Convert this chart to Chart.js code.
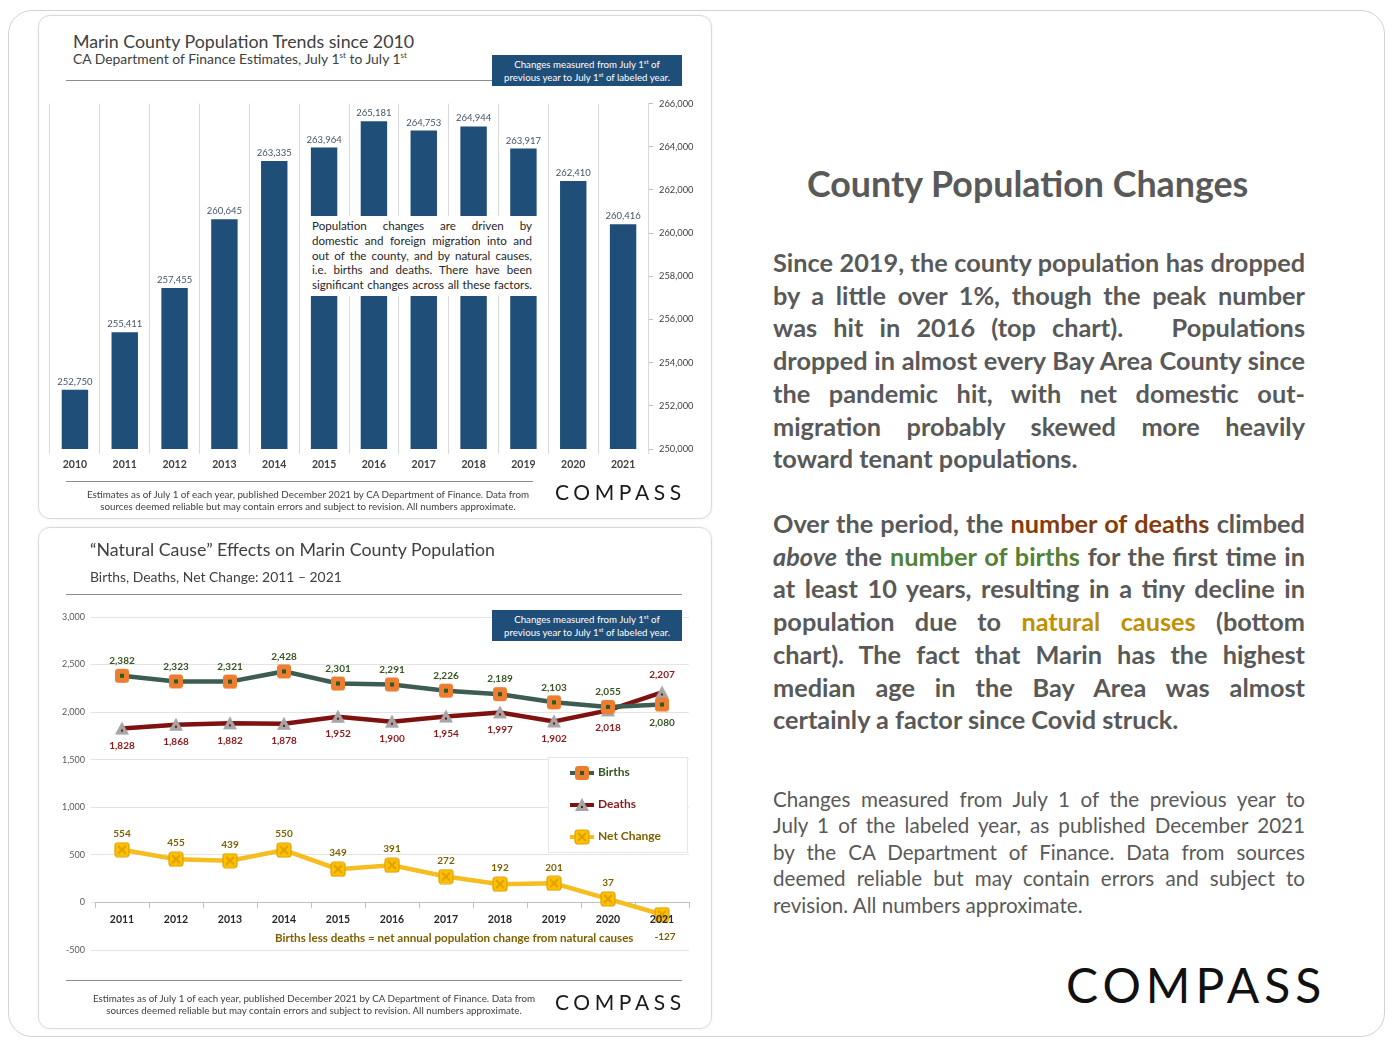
<!DOCTYPE html>
<html>
<head>
<meta charset="utf-8">
<script src="https://cdn.jsdelivr.net/npm/chart.js@4.4.0/dist/chart.umd.min.js"></script>
<style>
body{margin:0;background:#fff;font-family:Lato,'Open Sans',sans-serif;color:#404040;}
#page{position:relative;width:1392px;height:1045px;overflow:hidden;}
.abs{position:absolute;}
.frame{left:8px;top:10px;width:1377px;height:1027px;border:1.5px solid #d2d2d2;border-radius:24px;box-sizing:border-box;}
.card{border:1px solid #dadada;border-radius:12px;background:#fff;box-sizing:border-box;box-shadow:0 0 3px rgba(0,0,0,0.07);}
.ttl{font-size:17.8px;color:#404040;white-space:nowrap;}
.sub{font-size:13.9px;color:#404040;white-space:nowrap;}
.sub sup{font-size:8px;}
.rule{height:1px;background:#8c8c8c;}
.bluebox{background:#1F4E79;color:#fff;font-size:9.7px;line-height:12.5px;text-align:center;padding-top:3px;box-sizing:border-box;white-space:nowrap;}
.bluebox sup{font-size:6px;line-height:0;}
.foot{font-size:9.8px;line-height:12px;text-align:center;color:#404040;white-space:nowrap;}
.logo{font-size:21px;letter-spacing:4.6px;color:#1a1a1a;white-space:nowrap;}
.note{background:#fff;font-size:11.6px;line-height:14.8px;color:#262626;padding:3px 6px 0 7px;box-sizing:border-box;}
.note span.l{display:block;text-align:justify;text-align-last:justify;white-space:nowrap;}
.legend{background:#fff;border:1px solid #e6e6e6;box-sizing:border-box;}
.leg{position:absolute;left:20px;font-size:12px;font-weight:700;white-space:nowrap;}
.leg canvas{vertical-align:middle;margin-right:3px;}
.para{left:773px;width:532px;color:#595959;}
.p1{font-size:25.3px;font-weight:700;line-height:32.7px;}
.p3{font-size:20.6px;font-weight:400;line-height:26.4px;}
.para span.l{display:block;text-align:justify;text-align-last:justify;white-space:nowrap;}
.para span.e{display:block;white-space:nowrap;}
</style>
</head>
<body>
<div id="page">
  <div class="abs frame"></div>

  <!-- top card -->
  <div class="abs card" style="left:38px;top:15px;width:674px;height:504px;"></div>
  <div class="abs ttl" style="left:73px;top:30px;">Marin County Population Trends since 2010</div>
  <div class="abs sub" style="left:73px;top:50px;">CA Department of Finance Estimates, July 1<sup>st</sup> to July 1<sup>st</sup></div>
  <div class="abs rule" style="left:66px;top:80px;width:426px;"></div>
  <div class="abs bluebox" style="left:492px;top:55px;width:190px;height:31px;">Changes measured from July 1<sup>st</sup> of<br>previous year to July 1<sup>st</sup> of labeled year.</div>
  <div class="abs" style="left:40px;top:92px;width:665px;height:388px;"><canvas id="popChart" width="665" height="388"></canvas></div>
  <div class="abs note" style="left:305px;top:216px;width:233px;height:80px;">
    <span class="l">Population changes are driven by</span>
    <span class="l">domestic and foreign migration into and</span>
    <span class="l">out of the county, and by natural causes,</span>
    <span class="l">i.e. births and deaths. There have been</span>
    <span class="l">significant changes across all these factors.</span>
  </div>
  <div class="abs rule" style="left:66px;top:481px;width:467px;"></div>
  <div class="abs foot" style="left:50px;top:488px;width:516px;">Estimates as of July 1 of each year, published December 2021 by CA Department of Finance. Data from<br>sources deemed reliable but may contain errors and subject to revision. All numbers approximate.</div>
  <div class="abs logo" style="left:555px;top:479px;">COMPASS</div>

  <!-- bottom card -->
  <div class="abs card" style="left:38px;top:527px;width:674px;height:502px;"></div>
  <div class="abs ttl" style="left:90px;top:538px;">“Natural Cause” Effects on Marin County Population</div>
  <div class="abs sub" style="left:90px;top:568px;">Births, Deaths, Net Change: 2011 – 2021</div>
  <div class="abs rule" style="left:66px;top:594px;width:616px;"></div>
  <div class="abs" style="left:40px;top:600px;width:665px;height:368px;"><canvas id="natChart" width="665" height="368"></canvas></div>
  <div class="abs bluebox" style="left:492px;top:610px;width:190px;height:31px;">Changes measured from July 1<sup>st</sup> of<br>previous year to July 1<sup>st</sup> of labeled year.</div>
  <div class="abs legend" id="legend" style="left:548px;top:757px;width:140px;height:96px;"></div>
  <div class="abs" style="left:275px;top:931px;font-size:11.6px;font-weight:700;color:#7F6000;white-space:nowrap;">Births less deaths = net annual population change from natural causes</div>
  <div class="abs rule" style="left:66px;top:980px;width:616px;"></div>
  <div class="abs foot" style="left:56px;top:992px;width:516px;">Estimates as of July 1 of each year, published December 2021 by CA Department of Finance. Data from<br>sources deemed reliable but may contain errors and subject to revision. All numbers approximate.</div>
  <div class="abs logo" style="left:555px;top:989px;">COMPASS</div>

  <!-- right text -->
  <div class="abs" style="left:807px;top:162px;font-size:35.8px;font-weight:700;color:#595959;white-space:nowrap;">County Population Changes</div>
  <div class="abs para p1" style="top:246px;">
    <span class="l">Since 2019, the county population has dropped</span>
    <span class="l">by a little over 1%, though the peak number</span>
    <span class="l">was hit in 2016 (top chart).&nbsp;&nbsp; Populations</span>
    <span class="l">dropped in almost every Bay Area County since</span>
    <span class="l">the pandemic hit, with net domestic out-</span>
    <span class="l">migration probably skewed more heavily</span>
    <span class="e">toward tenant populations.</span>
  </div>
  <div class="abs para p1" style="top:507px;">
    <span class="l">Over the period, the <span style="color:#843C0C">number of deaths</span> climbed</span>
    <span class="l"><i>above</i> the <span style="color:#548235">number of births</span> for the first time in</span>
    <span class="l">at least 10 years, resulting in a tiny decline in</span>
    <span class="l">population due to <span style="color:#BF9000">natural causes</span> (bottom</span>
    <span class="l">chart). The fact that Marin has the highest</span>
    <span class="l">median age in the Bay Area was almost</span>
    <span class="e">certainly a factor since Covid struck.</span>
  </div>
  <div class="abs para p3" style="top:786px;">
    <span class="l">Changes measured from July 1 of the previous year to</span>
    <span class="l">July 1 of the labeled year, as published December 2021</span>
    <span class="l">by the CA Department of Finance. Data from sources</span>
    <span class="l">deemed reliable but may contain errors and subject to</span>
    <span class="e">revision. All numbers approximate.</span>
  </div>
  <div class="abs" style="left:1066px;top:956px;font-size:48px;letter-spacing:5px;color:#111;white-space:nowrap;">COMPASS</div>
</div>

<script>
// top chart data
var popYears = ['2010','2011','2012','2013','2014','2015','2016','2017','2018','2019','2020','2021'];
var population = [252750,255411,257455,260645,263335,263964,265181,264753,264944,263917,262410,260416];

// bottom chart data
var natYears = ['2011','2012','2013','2014','2015','2016','2017','2018','2019','2020','2021'];
var births = [2382,2323,2321,2428,2301,2291,2226,2189,2103,2055,2080];
var deaths = [1828,1868,1882,1878,1952,1900,1954,1997,1902,2018,2207];
var netChange = [554,455,439,550,349,391,272,192,201,37,-127];

function fmt(v){ return Number(v).toLocaleString('en-US'); }

// marker images for the line chart
function rr(g,x,y,w,h,r){
  g.beginPath();
  g.moveTo(x+r,y); g.lineTo(x+w-r,y); g.quadraticCurveTo(x+w,y,x+w,y+r);
  g.lineTo(x+w,y+h-r); g.quadraticCurveTo(x+w,y+h,x+w-r,y+h);
  g.lineTo(x+r,y+h); g.quadraticCurveTo(x,y+h,x,y+h-r);
  g.lineTo(x,y+r); g.quadraticCurveTo(x,y,x+r,y); g.closePath();
}
function makeMarker(kind){
  var c = document.createElement('canvas'); c.width = 16; c.height = 16;
  var g = c.getContext('2d');
  if (kind == 'births'){
    rr(g,1,1,14,14,3); g.fillStyle = '#ED7D31'; g.fill();
    g.fillStyle = '#2E5A1E'; g.fillRect(6,6,4,4);
  } else if (kind == 'deaths'){
    g.beginPath(); g.moveTo(8,1); g.lineTo(15,14); g.lineTo(1,14); g.closePath();
    g.fillStyle = '#A5A5A5'; g.fill();
    g.fillStyle = '#7B1010'; g.fillRect(7,9,2,2);
  } else {
    rr(g,1,1,14,14,3); g.fillStyle = '#FFC000'; g.fill();
    g.strokeStyle = '#E0A100'; g.lineWidth = 1.2; g.stroke();
    g.beginPath(); g.moveTo(4,4); g.lineTo(12,12); g.moveTo(12,4); g.lineTo(4,12);
    g.lineWidth = 2; g.stroke();
  }
  return c;
}
var mBirths = makeMarker('births'), mDeaths = makeMarker('deaths'), mNet = makeMarker('net');

// simple data label plugin
var valueLabels = {
  id: 'valueLabels',
  afterDatasetsDraw: function(chart){
    var ctx = chart.ctx;
    chart.data.datasets.forEach(function(ds, i){
      if (!ds.labelColor) return;
      var meta = chart.getDatasetMeta(i);
      meta.data.forEach(function(el, j){
        var below = ds.labelBelow ? ds.labelBelow(j) : false;
        var y = below ? el.y + ds.gapBelow : el.y - ds.gapAbove;
        ctx.save();
        ctx.font = ds.labelFont;
        ctx.fillStyle = ds.labelColor;
        ctx.textAlign = 'center';
        ctx.textBaseline = 'middle';
        ctx.fillText(fmt(ds.data[j]), el.x + (below && ds.shiftBelow ? ds.shiftBelow : 0), y);
        ctx.restore();
      });
    });
  }
};

new Chart(document.getElementById('popChart'), {
  type: 'bar',
  data: {
    labels: popYears,
    datasets: [{
      data: population,
      backgroundColor: '#1F4E79',
      barPercentage: 0.53,
      categoryPercentage: 1,
      labelColor: '#44546A',
      labelFont: '9.5px Lato',
      gapAbove: 8
    }]
  },
  options: {
    responsive: false,
    animation: false,
    layout: {padding: {left: 10, top: 8, right: 0, bottom: 0}},
    plugins: {legend: {display: false}, tooltip: {enabled: false}},
    scales: {
      x: {
        grid: {color: '#d9d9d9', offset: true, tickLength: 5},
        border: {display: false},
        ticks: {color: '#404040', font: {family: 'Lato', size: 10.5, weight: 'bold'}, padding: 4},
        afterFit: function(s){ s.height = 31; }
      },
      y: {
        position: 'right',
        min: 250000, max: 266000,
        ticks: {stepSize: 2000, color: '#404040', font: {family: 'Lato', size: 9.3}, padding: 6, callback: function(v){ return fmt(v); }},
        grid: {drawOnChartArea: false, tickLength: 5, color: '#bfbfbf'},
        border: {color: '#d9d9d9'},
        afterFit: function(s){ s.width = 57; }
      }
    }
  },
  plugins: [valueLabels]
});

new Chart(document.getElementById('natChart'), {
  type: 'line',
  data: {
    labels: natYears,
    datasets: [{
      label: 'Births',
      data: births,
      borderColor: '#3D5C52',
      borderWidth: 4.5,
      tension: 0,
      pointStyle: mBirths,
      labelColor: '#375623',
      labelFont: 'bold 10px Lato',
      gapAbove: 15, gapBelow: 18,
      labelBelow: function(j){ return births[j] < deaths[j]; }
    }, {
      label: 'Deaths',
      data: deaths,
      borderColor: '#7F1111',
      borderWidth: 4.5,
      tension: 0,
      pointStyle: mDeaths,
      labelColor: '#8B1A1A',
      labelFont: 'bold 10px Lato',
      gapAbove: 18, gapBelow: 17,
      labelBelow: function(j){ return deaths[j] <= births[j]; }
    }, {
      label: 'Net Change',
      data: netChange,
      borderColor: '#F5BD1F',
      borderWidth: 4.5,
      tension: 0,
      pointStyle: mNet,
      labelColor: '#7F6000',
      labelFont: 'bold 10px Lato',
      gapAbove: 16, gapBelow: 22, shiftBelow: 3,
      labelBelow: function(j){ return netChange[j] < 0; }
    }]
  },
  options: {
    responsive: false,
    animation: false,
    layout: {padding: {left: 0, top: 17, right: 16, bottom: 18}},
    plugins: {legend: {display: false}, tooltip: {enabled: false}},
    scales: {
      x: {
        position: {y: 0},
        offset: true,
        grid: {drawOnChartArea: false, offset: true, tickLength: 5, color: '#bfbfbf'},
        border: {color: '#bfbfbf'},
        ticks: {z: 1, color: '#262626', font: {family: 'Lato', size: 10.5, weight: 'bold'}, padding: 6}
      },
      y: {
        min: -500, max: 3000,
        ticks: {stepSize: 500, color: '#595959', font: {family: 'Lato', size: 9}, padding: 6, callback: function(v){ return fmt(v); }},
        grid: {color: '#e4e4e4', tickLength: 4},
        border: {display: false},
        afterFit: function(s){ s.width = 55; }
      }
    }
  },
  plugins: [valueLabels]
});

// html legend with the same markers
var legendItems = [['Births', mBirths, '#3D5C52', '#375623'], ['Deaths', mDeaths, '#7F1111', '#8B1A1A'], ['Net Change', mNet, '#F5BD1F', '#7F6000']];
var legend = document.getElementById('legend');
legendItems.forEach(function(it, k){
  var row = document.createElement('div');
  row.className = 'leg';
  row.style.top = (6 + k * 32) + 'px';
  row.style.color = it[3];
  var c = document.createElement('canvas'); c.width = 26; c.height = 16;
  var g = c.getContext('2d');
  g.strokeStyle = it[2]; g.lineWidth = 4; g.beginPath(); g.moveTo(1,8); g.lineTo(25,8); g.stroke();
  g.drawImage(it[1], 5, 0);
  row.appendChild(c);
  row.appendChild(document.createTextNode(it[0]));
  legend.appendChild(row);
});
</script>
</body>
</html>
